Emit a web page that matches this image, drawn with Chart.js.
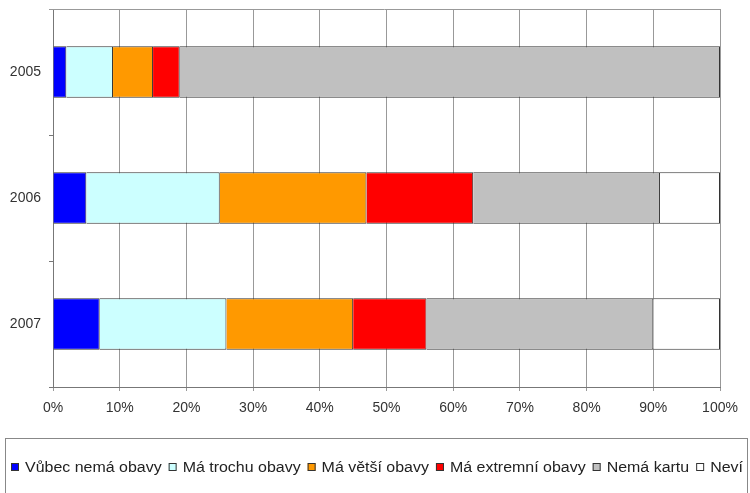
<!DOCTYPE html>
<html><head><meta charset="utf-8">
<script src="https://cdn.jsdelivr.net/npm/chart.js@4/dist/chart.umd.min.js"></script>
<style>html,body{margin:0;padding:0;background:#fff}</style>
</head><body>
<canvas id="c" width="750" height="493" style="display:block;width:750px;height:493px"></canvas>
<script>
const years = ['2005', '2006', '2007'];
const seriesNames = ['Vůbec nemá obavy', 'Má trochu obavy', 'Má větší obavy', 'Má extremní obavy', 'Nemá kartu', 'Neví'];
const vubecNemaObavy = [2, 5, 7];
const trochuObavy = [7, 20, 19];
const vetsiObavy = [6, 22, 19];
const extremniObavy = [4, 16, 11];
const nemaKartu = [81, 28, 34];
const nevi = [0, 9, 10];
const xTickValues = [0, 10, 20, 30, 40, 50, 60, 70, 80, 90, 100];
const seriesColors = ['#0000FF', '#CCFFFF', '#FF9900', '#FF0000', '#C0C0C0', '#FFFFFF'];

const seriesValues = [vubecNemaObavy, trochuObavy, vetsiObavy, extremniObavy, nemaKartu, nevi];
const FONT = '"Liberation Sans", Arial, sans-serif';

const topLine = {
  id: 'topLine',
  beforeDatasetsDraw(chart) {
    const {ctx, chartArea} = chart;
    ctx.save();
    ctx.strokeStyle = '#999';
    ctx.lineWidth = 1;
    ctx.beginPath();
    ctx.moveTo(chartArea.left - 4, Math.round(chartArea.top) + 0.5);
    ctx.lineTo(chartArea.right, Math.round(chartArea.top) + 0.5);
    ctx.stroke();
    ctx.restore();
  }
};

const boxLegend = {
  id: 'boxLegend',
  afterDraw(chart) {
    const {ctx} = chart;
    const sx = 1.14;
    ctx.save();
    ctx.strokeStyle = '#888';
    ctx.lineWidth = 1;
    ctx.strokeRect(5.5, 438.5, 742, 80);
    ctx.beginPath();
    ctx.rect(6, 439, 741, 60);
    ctx.clip();
    ctx.font = '14px ' + FONT;
    ctx.textBaseline = 'middle';
    let x = 11;
    const yMid = 467;
    chart.data.datasets.forEach(ds => {
      ctx.fillStyle = ds.backgroundColor;
      ctx.fillRect(x, yMid - 4, 8, 8);
      ctx.strokeStyle = '#333';
      ctx.strokeRect(x + 0.5, yMid - 3.5, 7, 7);
      ctx.fillStyle = '#222';
      const tx = x + 14;
      ctx.save();
      ctx.translate(tx, yMid + 1);
      ctx.scale(sx, 1);
      ctx.fillText(ds.label, 0, 0);
      ctx.restore();
      x = tx + ctx.measureText(ds.label).width * sx + 7;
    });
    ctx.restore();
  }
};

new Chart(document.getElementById('c'), {
  type: 'bar',
  data: {
    labels: years,
    datasets: seriesNames.map((name, i) => ({
      label: name,
      data: seriesValues[i],
      backgroundColor: seriesColors[i],
      borderColor: '#333',
      borderWidth: 1,
      barPercentage: 0.41,
      categoryPercentage: 1
    }))
  },
  options: {
    indexAxis: 'y',
    responsive: false,
    animation: false,
    devicePixelRatio: 1,
    layout: {padding: {top: 9, right: 30, left: 0, bottom: 0}},
    plugins: {legend: {display: false}, tooltip: {enabled: false}},
    scales: {
      x: {
        stacked: true,
        min: 0, max: 100,
        afterBuildTicks(scale) { scale.ticks = xTickValues.map(v => ({value: v})); },
        afterFit(scale) { scale.height = 106; },
        ticks: {
          callback: v => v + '%',
          color: '#333',
          font: {family: FONT, size: 14},
          padding: 9,
          maxRotation: 0
        },
        grid: {color: '#999', lineWidth: 1, tickLength: 4, drawTicks: true},
        border: {color: '#777'}
      },
      y: {
        stacked: true,
        afterFit(scale) { scale.width = 53; scale.paddingTop = 0; scale.paddingBottom = 0; },
        ticks: {color: '#333', font: {family: FONT, size: 14}, padding: 8},
        grid: {drawOnChartArea: false, color: '#777', tickLength: 4, offset: true},
        border: {color: '#777'}
      }
    }
  },
  plugins: [topLine, boxLegend]
});
</script>
</body></html>
